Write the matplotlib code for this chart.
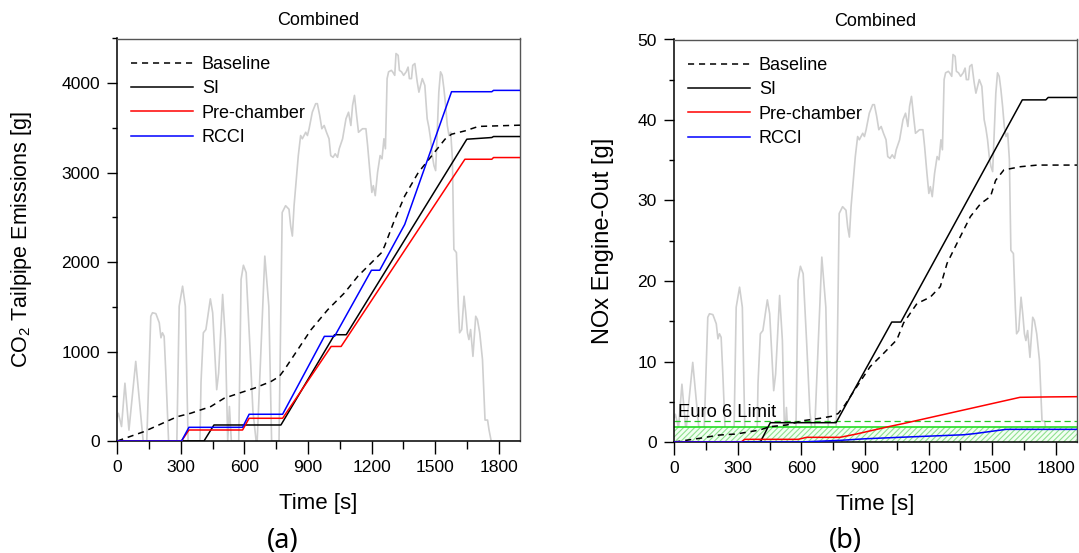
import matplotlib
matplotlib.use('Agg')
import matplotlib.pyplot as plt
from matplotlib.ticker import MultipleLocator

plt.rcParams['font.family'] = ['Liberation Sans', 'DejaVu Sans']
plt.rcParams['mathtext.fontset'] = 'custom'
plt.rcParams['mathtext.rm'] = 'Liberation Sans'
plt.rcParams['hatch.color'] = '#8fe08f'
plt.rcParams['hatch.linewidth'] = 0.8

# ---------------- data ----------------
# background drive-cycle speed trace (arbitrary speed units, km/h)
trace_t = [0, 5, 20, 36, 55, 87, 122, 139, 158, 166, 182, 198, 206, 213, 221, 229, 242,
           281, 292, 308, 321, 334, 390, 395, 406, 418, 439, 450, 469, 478, 497, 510, 521,
           529, 538, 573, 584, 595, 608, 624, 640, 655, 660, 696, 715, 728, 763, 778, 794,
           810, 818, 826, 834, 842, 854, 865, 873, 889, 897, 905, 920, 936, 944, 955, 965,
           976, 987, 999, 1007, 1018, 1028, 1039, 1047, 1063, 1079, 1091, 1102, 1110, 1119,
           1129, 1138, 1157, 1173, 1181, 1192, 1201, 1208, 1217, 1228, 1240, 1249, 1258,
           1265, 1273, 1280, 1293, 1299, 1309, 1315, 1325, 1331, 1341, 1351, 1363, 1372,
           1378, 1388, 1394, 1404, 1415, 1423, 1439, 1451, 1462, 1470, 1478, 1486, 1494,
           1502, 1510, 1517, 1525, 1533, 1541, 1549, 1557, 1565, 1573, 1581, 1588, 1600,
           1609, 1615, 1625, 1636, 1644, 1652, 1659, 1667, 1678, 1691, 1699, 1710, 1723,
           1735, 1747, 1754, 1764, 1900]
trace_v = [8.3, 9.4, 4.9, 19.6, 3.7, 27.0, 0, 0, 42.3, 43.5, 43.2, 40.1, 35.0, 36.7, 35.5,
           23.0, 0, 0, 45.7, 52.5, 45.7, 0, 0, 20.0, 36.7, 37.8, 48.2, 43.5, 17.4, 23.0,
           49.7, 34.4, 0, 11.7, 0, 0, 54.8, 59.6, 57.1, 34.4, 10.0, 0, 0, 62.7, 45.7, 0, 0,
           77.5, 79.8, 78.6, 72.9, 69.5, 79.8, 86.6, 96.8, 103.6, 102.5, 104.7, 103.6, 105.9,
           111.5, 114.4, 114.4, 110.4, 105.9, 107.0, 104.7, 102.5, 96.8, 96.2, 97.4, 96.2,
           99.1, 102.5, 109.3, 111.5, 107.0, 113.8, 117.2, 110.4, 104.7, 105.9, 105.9,
           100.2, 91.1, 84.3, 86.6, 83.2, 91.1, 96.8, 95.7, 102.5, 99.1, 122.9, 125.2,
           125.7, 125.2, 124.0, 131.4, 130.8, 125.7, 125.2, 124.0, 125.2, 126.8, 122.9,
           122.9, 127.4, 128.0, 121.8, 118.3, 122.9, 120.6, 109.3, 106.4, 102.5, 96.8, 93.4,
           91.7, 105.9, 118.3, 125.2, 124.0, 119.5, 113.8, 107.0, 103.6, 104.7, 95.7, 65.0,
           63.9, 45.7, 36.7, 37.8, 49.1, 43.5, 36.7, 34.4, 37.8, 28.7, 42.3, 41.2, 36.7,
           27.6, 7.1, 7.1, 3.7, 0, 0]

# CO2 tailpipe emissions [g]
co2_base_t = [0, 125, 283, 346, 441, 504, 598, 646, 725, 764, 788, 851, 914, 993, 1072, 1135,
              1214, 1246, 1261, 1309, 1356, 1420, 1483, 1546, 1577, 1640, 1704, 1900]
co2_base_v = [0, 104, 272, 310, 385, 478, 553, 590, 665, 721, 796, 1020, 1244, 1468, 1656,
              1842, 2029, 2104, 2178, 2477, 2739, 3001, 3187, 3374, 3430, 3467, 3517, 3531]
co2_si_t = [0, 409, 456, 772, 1025, 1080, 1649, 1767, 1775, 1900]
co2_si_v = [0, 0, 179, 179, 1188, 1188, 3374, 3393, 3404, 3404]
co2_pc_t = [0, 303, 338, 591, 622, 780, 1009, 1056, 1640, 1767, 1775, 1900]
co2_pc_v = [0, 0, 123, 123, 254, 254, 1057, 1057, 3150, 3150, 3169, 3169]
co2_rc_t = [0, 303, 338, 591, 622, 780, 977, 1025, 1199, 1238, 1356, 1577, 1767, 1775, 1900]
co2_rc_v = [0, 0, 153, 153, 299, 299, 1170, 1170, 1909, 1909, 2421, 3905, 3905, 3920, 3920]

# NOx engine-out [g]
nox_base_t = [0, 118, 213, 292, 403, 450, 529, 608, 687, 750, 774, 805, 861, 924, 987, 1050,
              1082, 1145, 1208, 1255, 1287, 1334, 1397, 1445, 1492, 1516, 1555, 1634, 1713, 1900]
nox_base_v = [0, 0.45, 0.87, 0.99, 1.49, 1.90, 2.11, 2.65, 2.94, 3.23, 3.56, 4.60, 6.87, 9.36,
              11.0, 12.7, 14.8, 17.2, 18.0, 19.3, 22.2, 24.7, 28.0, 29.6, 30.5, 32.5, 33.8,
              34.2, 34.4, 34.4]
nox_si_t = [0, 406, 453, 763, 1026, 1069, 1642, 1753, 1764, 1900]
nox_si_v = [0, 0, 2.4, 2.4, 14.9, 14.9, 42.5, 42.5, 42.8, 42.8]
nox_pc_t = [0, 316, 332, 584, 624, 782, 861, 1010, 1082, 1631, 1765, 1900]
nox_pc_v = [0, 0, 0.33, 0.33, 0.58, 0.58, 1.0, 1.9, 2.3, 5.55, 5.6, 5.63]
nox_rc_t = [0, 590, 780, 900, 1080, 1366, 1420, 1565, 1900]
nox_rc_v = [0, 0, 0.2, 0.4, 0.6, 0.9, 1.05, 1.57, 1.57]

euro6_band = 1.9
euro6_dashed = 2.6

labels = ['Baseline', 'SI', 'Pre-chamber', 'RCCI']
x_ticks = [0, 300, 600, 900, 1200, 1500, 1800]

# ---------------- figure ----------------
W, H = 1079, 553
fig = plt.figure(figsize=(W / 100, H / 100), dpi=100)
ax1 = fig.add_axes([117.3 / W, (H - 441) / H, (520 - 117.3) / W, (441 - 38.5) / H])
ax2 = fig.add_axes([674.3 / W, (H - 442) / H, (1077 - 674.3) / W, (442 - 39.5) / H])

trace_scale = 136.5


def style_axis(ax, ymax, ymajor, yminor):
    ax.set_xlim(0, 1900)
    ax.set_ylim(0, ymax)
    ax.set_xticks(x_ticks)
    ax.xaxis.set_minor_locator(MultipleLocator(150))
    ax.yaxis.set_major_locator(MultipleLocator(ymajor))
    ax.yaxis.set_minor_locator(MultipleLocator(yminor))
    ax.tick_params(which='both', direction='out', width=1.0, labelsize=12.6,
                   top=False, right=False)
    ax.tick_params(axis='x', which='major', length=9, pad=5)
    ax.tick_params(axis='x', which='minor', length=5.5)
    ax.tick_params(axis='y', which='major', length=7.5, pad=5)
    ax.tick_params(axis='y', which='minor', length=3.6)
    for s in ['left', 'bottom']:
        ax.spines[s].set_color('black')
        ax.spines[s].set_linewidth(1.1)
    for s in ['top', 'right']:
        ax.spines[s].set_color('#555555')
        ax.spines[s].set_linewidth(1.0)
    ax.set_title('Combined', fontsize=13, pad=10)
    ax.set_xlabel('Time [s]', fontsize=16)
    ax.xaxis.set_label_coords(0.5, -0.129)
    # background speed trace in axes-fraction height
    ax.plot(trace_t, [v / trace_scale for v in trace_v], transform=ax.get_xaxis_transform(),
            color='#cfcfcf', lw=1.2, zorder=1)


style_axis(ax1, 4500, 1000, 500)
style_axis(ax2, 50, 10, 5)

# CO2 panel
l1, = ax1.plot(co2_base_t, co2_base_v, color='black', lw=1.1, dashes=(4, 3.2), zorder=3)
l2, = ax1.plot(co2_si_t, co2_si_v, color='black', lw=1.1, zorder=3)
l3, = ax1.plot(co2_pc_t, co2_pc_v, color='#ff0000', lw=1.1, zorder=3)
l4, = ax1.plot(co2_rc_t, co2_rc_v, color='#0000ff', lw=1.1, zorder=3)
ax1.set_ylabel(r'CO$_\mathregular{2}$ Tailpipe Emissions [g]', fontsize=15.5)
ax1.yaxis.set_label_coords((34 - 117.3) / 402.7, 0.5)

# NOx panel
ax2.fill_between([0, 1900], [0, 0], [euro6_band, euro6_band], facecolor='#f2fff2',
                 edgecolor='#8fe08f', hatch='//////', lw=0, zorder=2)
ax2.axhline(euro6_band, color='#22dd22', lw=1.2, zorder=2.5)
ax2.axhline(euro6_dashed, color='#22cc22', lw=0.9, dashes=(5, 3), zorder=2.5)
ax2.text(17, 3.15, 'Euro 6 Limit', fontsize=13.2, va='baseline', ha='left', zorder=4)
m1, = ax2.plot(nox_base_t, nox_base_v, color='black', lw=1.1, dashes=(4, 3.2), zorder=3)
m2, = ax2.plot(nox_si_t, nox_si_v, color='black', lw=1.1, zorder=3)
m3, = ax2.plot(nox_pc_t, nox_pc_v, color='#ff0000', lw=1.1, zorder=3)
m4, = ax2.plot(nox_rc_t, nox_rc_v, color='#0000ff', lw=1.1, zorder=3)
ax2.set_ylabel('NOx Engine-Out [g]', fontsize=17)
ax2.yaxis.set_label_coords((614 - 674.3) / 402.7, 0.5)

for ax, hs in [(ax1, [l1, l2, l3, l4]), (ax2, [m1, m2, m3, m4])]:
    ax.legend(hs, labels, loc='upper left', frameon=False, fontsize=13,
              handlelength=3.43, handletextpad=0.5, labelspacing=0.40,
              borderaxespad=0.36, bbox_to_anchor=(0.0, 0.99))

fig.text(283 / W, 1 - 548 / H, '(a)', ha='center', va='baseline', fontsize=19.5,
         family='Noto Sans')
fig.text(845 / W, 1 - 548 / H, '(b)', ha='center', va='baseline', fontsize=19.5,
         family='Noto Sans')

fig.savefig('out.png', dpi=100)
